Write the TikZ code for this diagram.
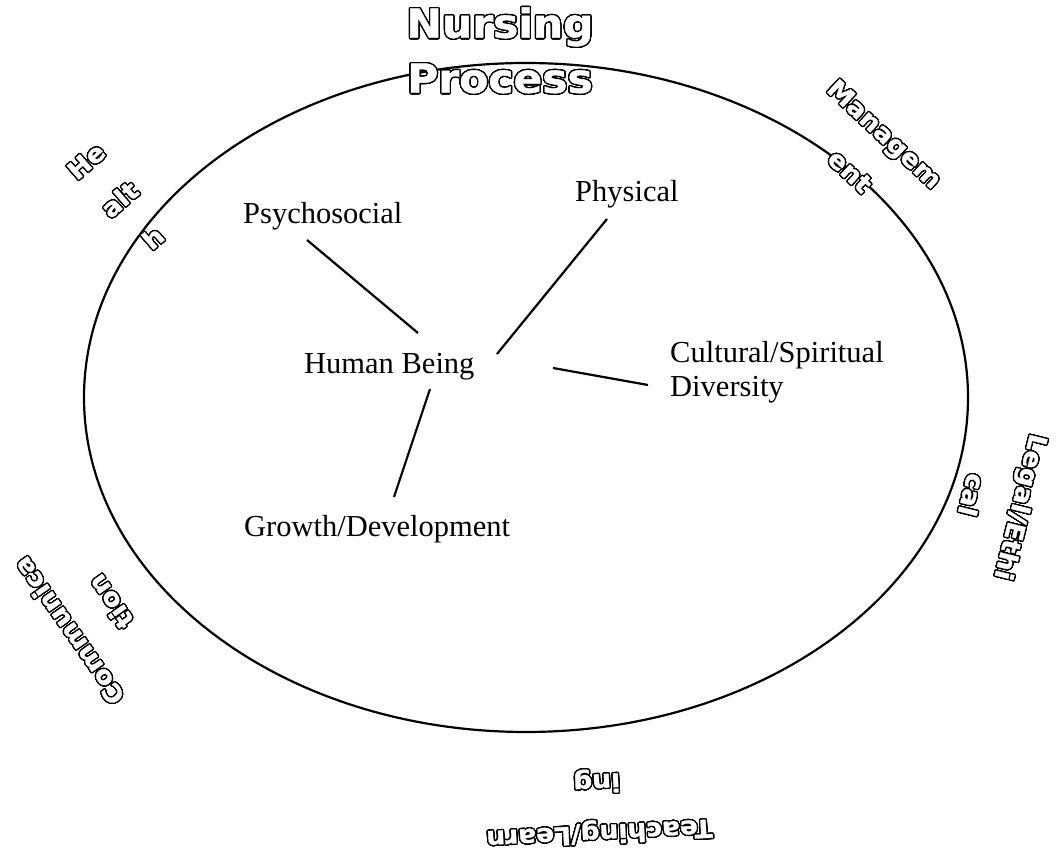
\documentclass[tikz,border=0pt]{standalone}
\usepackage{fontspec}
\usepackage[copies]{contour}
\setmainfont{Liberation Serif}
\newfontfamily\outfont{DejaVu Sans}[FakeStretch=1.06, BoldFeatures={FakeBold=1.2}]
\contourlength{1.3pt}
\contournumber{32}
\newcommand{\olt}[1]{\contour{black}{#1}}
\tikzset{
  lbl/.style={inner sep=0pt, font=\fontsize{30.5}{34}\selectfont, text=black},
  outsmall/.style={inner sep=0pt, align=center, text=white,
    font=\outfont\bfseries\fontsize{25}{51}\selectfont},
  outbig/.style={inner sep=0pt, align=center, text=white,
    font=\outfont\bfseries\fontsize{40}{55}\selectfont},
  conn/.style={line width=2.2pt, line cap=butt},
  ring/.style={line width=2.2pt}
}
\begin{document}
\begin{tikzpicture}[x=1pt,y=1pt]
\useasboundingbox (0,0) rectangle (1056,850);
% outer circle
\draw[ring] (526,452.5) ellipse [x radius=442, y radius=334.5];
% inner labels
\node[lbl, anchor=base west] (hb) at (304,476) {Human Being};
\node[lbl, anchor=base west] (psy) at (243,626) {Psychosocial};
\node[lbl, anchor=base west] (phy) at (575,648) {Physical};
\node[lbl, anchor=base west, align=left] (cul) at (670,453) {Cultural/Spiritual\\Diversity};
\node[lbl, anchor=base west] (gro) at (244,313) {Growth/Development};
% connector ends
\coordinate (hbPsy) at (418,517);
\coordinate (psyE) at (307,610);
\coordinate (hbPhy) at (497,496);
\coordinate (phyE) at (607,631);
\coordinate (hbCul) at (553,482);
\coordinate (culE) at (648,465);
\coordinate (hbGro) at (430,461);
\coordinate (groE) at (394,353);
\draw[conn] (hbPsy) -- (psyE);
\draw[conn] (hbPhy) -- (phyE);
\draw[conn] (hbCul) -- (culE);
\draw[conn] (hbGro) -- (groE);
% outlined labels around the circle
\node[outbig] (nurs) at (500,799) {\olt{Nursing}\\\olt{Process}};
\node[outsmall, rotate=-43] (mgmt) at (867,697) {\olt{Managem}\\\olt{ent}};
\node[outsmall, rotate=41] (hlth) at (120,650) {\olt{He}\\\olt{alt}\\\olt{h}};
\node[outsmall, rotate=-104] (legal) at (996,349) {\olt{Legal/Ethi}\\\olt{cal}};
\node[outsmall, rotate=125] (comm) at (90,234) {\olt{Communica}\\\olt{tion}};
\node[outsmall, rotate=183] (teach) at (598,44) {\olt{Teaching/Learn}\\\olt{ing}};
\end{tikzpicture}
\end{document}
